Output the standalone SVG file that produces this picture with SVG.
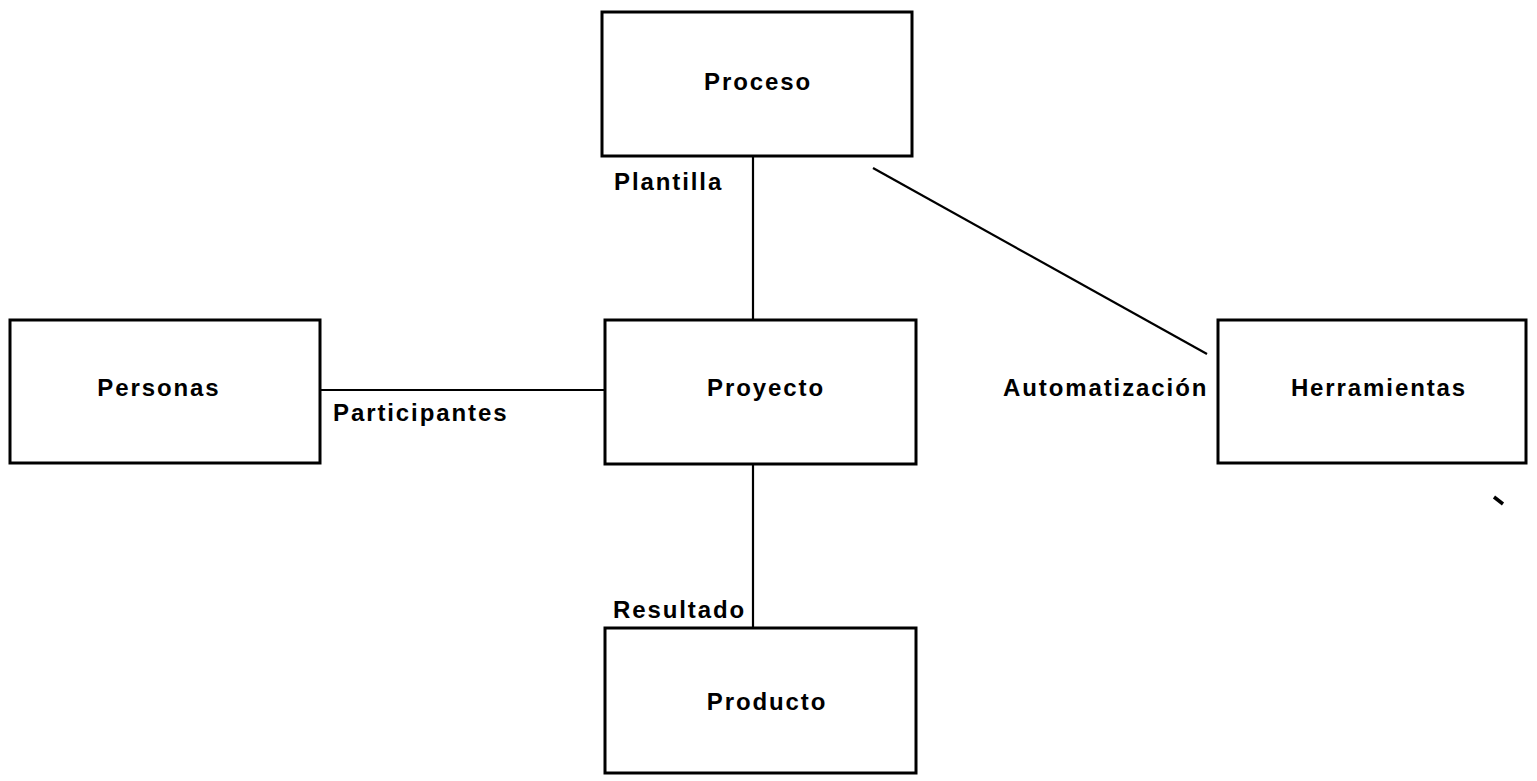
<svg xmlns="http://www.w3.org/2000/svg" width="1537" height="781" viewBox="0 0 1537 781">
<style>
.box{fill:#fff;stroke:#000;stroke-width:3}
.ln{stroke:#000;stroke-width:2.2;fill:none}
text{font-family:"Liberation Sans",Arial,sans-serif;font-weight:bold;font-size:24px;letter-spacing:1.9px;fill:#000}
.c{text-anchor:middle}
</style>
<rect width="1537" height="781" fill="#fff"/>
<g id="connectors">
<line class="ln" x1="753" y1="156" x2="753" y2="320"/>
<line class="ln" x1="873" y1="168" x2="1207" y2="354"/>
<line class="ln" x1="320" y1="390" x2="605" y2="390"/>
<line class="ln" x1="753" y1="464" x2="753" y2="628"/>
<line x1="1494" y1="497" x2="1503" y2="504" stroke="#000" stroke-width="3.5"/>
</g>
<g id="labels">
<text x="614" y="190">Plantilla</text>
<text x="333" y="421">Participantes</text>
<text x="1003" y="396">Automatización</text>
<text x="613" y="618">Resultado</text>
</g>
<g id="proceso"><rect class="box" x="602" y="12" width="310" height="144"/><text class="c" x="758" y="90">Proceso</text></g>
<g id="personas"><rect class="box" x="10" y="320" width="310" height="143"/><text class="c" x="159" y="396">Personas</text></g>
<g id="proyecto"><rect class="box" x="605" y="320" width="311" height="144"/><text class="c" x="766" y="396">Proyecto</text></g>
<g id="herramientas"><rect class="box" x="1218" y="320" width="308" height="143"/><text class="c" x="1379" y="396">Herramientas</text></g>
<g id="producto"><rect class="box" x="605" y="628" width="311" height="145"/><text class="c" x="767" y="710">Producto</text></g>
</svg>
